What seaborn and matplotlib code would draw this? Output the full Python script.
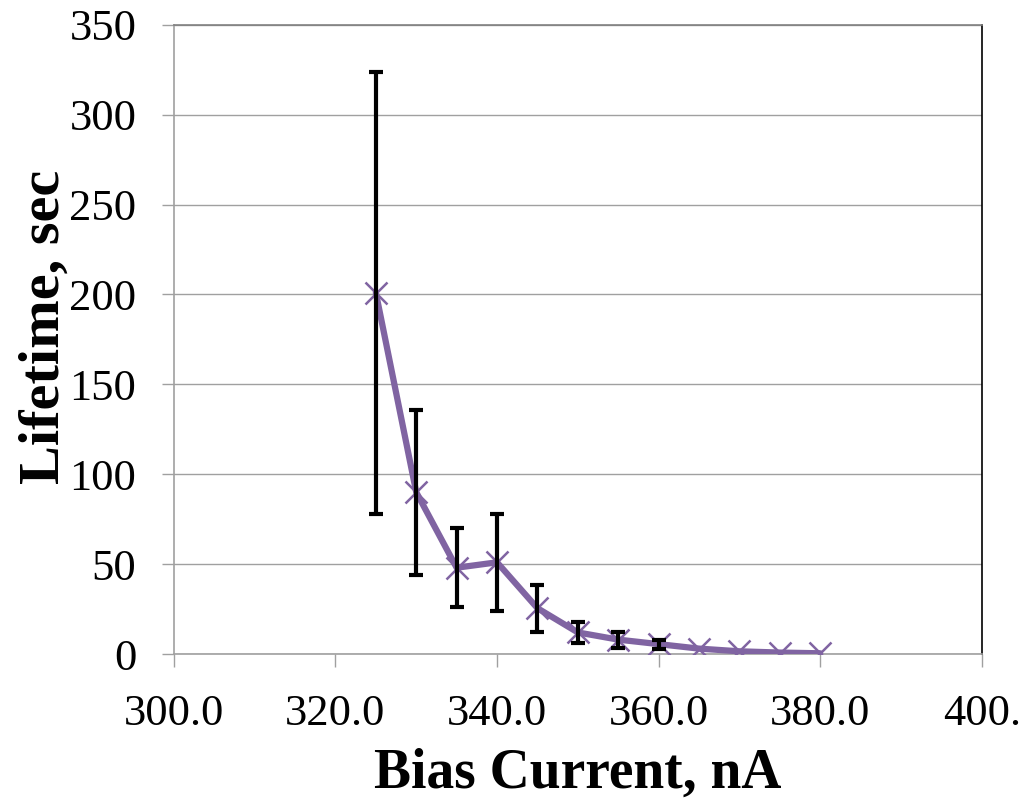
import matplotlib
matplotlib.use("Agg")
import matplotlib.pyplot as plt
import matplotlib.transforms as mtransforms
import seaborn as sns
import pandas as pd

bias_current = [325, 330, 335, 340, 345, 350, 355, 360, 365, 370, 375, 380]
lifetime = [201, 90, 48, 51, 25.5, 12, 8, 5.5, 3, 1.5, 0.8, 0.4]
error = [123, 46, 22, 27, 13, 6, 4.5, 2.5, 0, 0, 0, 0]
x_ticks = [300, 320, 340, 360, 380, 400]
x_tick_labels = ["300.0", "320.0", "340.0", "360.0", "380.0", "400."]
y_ticks = [0, 50, 100, 150, 200, 250, 300, 350]

sns.set_theme(style="white")
plt.rcParams['font.family'] = ['Liberation Serif', 'DejaVu Serif']
plt.rcParams['text.color'] = 'black'
plt.rcParams['axes.labelcolor'] = 'black'

df = pd.DataFrame({"x": bias_current, "y": lifetime, "err": error})
df_err = df[df["err"] > 0]

fig = plt.figure(figsize=(10.29, 8.0), dpi=100)
ax = fig.add_axes([0.169, 0.1825, 0.785, 0.7865])

purple = "#8064A2"
sns.lineplot(data=df, x="x", y="y", ax=ax, color=purple, linewidth=4.5,
             marker="x", markersize=16, markeredgewidth=1.8,
             markeredgecolor=purple, zorder=3)
ax.errorbar(df_err["x"], df_err["y"], yerr=df_err["err"], fmt="none", ecolor="black",
            elinewidth=3, capsize=5, capthick=3, zorder=4)

ax.set_xlim(300, 400)
ax.set_ylim(0, 350)
ax.set_yticks(y_ticks)
ax.set_yticklabels([str(v) for v in y_ticks])
ax.set_xticks(x_ticks)
ax.set_xticklabels(x_tick_labels)
lbls = ax.get_xticklabels()
lbls[-1].set_transform(lbls[-1].get_transform() +
                       mtransforms.ScaledTranslation(-0.12, 0, fig.dpi_scale_trans))

ax.grid(axis="y", color="#A0A0A0", linewidth=1)
ax.set_axisbelow(True)

for side in ["left", "bottom", "top"]:
    ax.spines[side].set_color("#A0A0A0")
    ax.spines[side].set_linewidth(1.2)
ax.spines["top"].set_color("#808080")
ax.spines["right"].set_color("black")
ax.spines["right"].set_linewidth(1.2)

ax.tick_params(axis="both", which="major", labelsize=32, colors="black",
               length=9, width=1, direction="out")
ax.tick_params(axis="x", color="#A0A0A0", pad=20)
ax.tick_params(axis="y", color="#A0A0A0", pad=18)
ax.tick_params(left=True, bottom=True)

ax.set_xlabel("Bias Current, nA", fontsize=40, fontweight="bold", color="black")
ax.set_ylabel("Lifetime, sec", fontsize=42, fontweight="bold", color="black")
ax.xaxis.set_label_coords(0.5, -0.149)
ax.yaxis.set_label_coords(-0.128, 0.52)

fig.savefig("out.png", dpi=100, facecolor="white")
